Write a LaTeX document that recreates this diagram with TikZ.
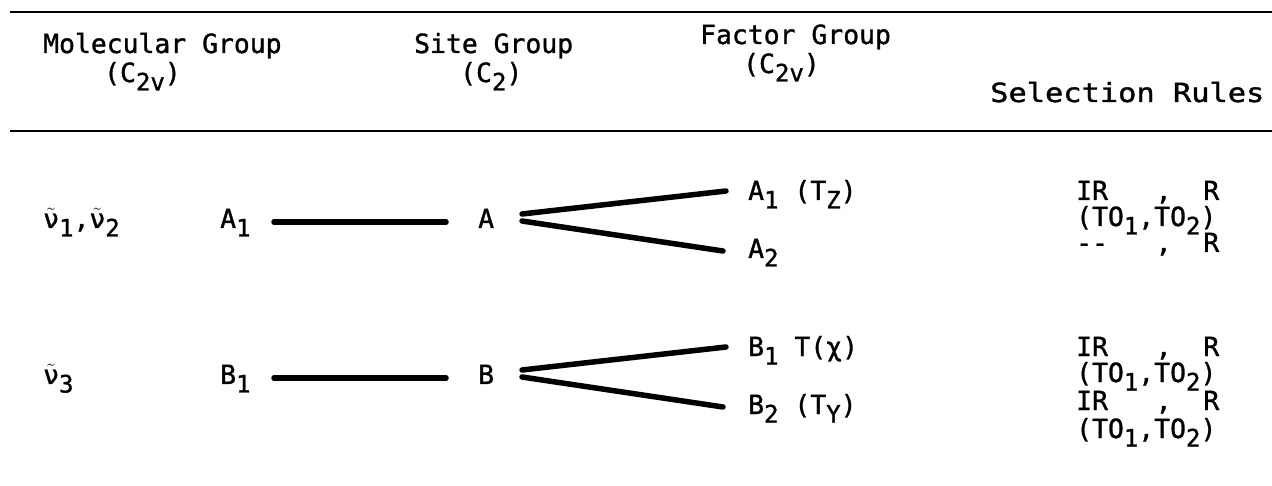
\documentclass[tikz,border=0pt]{standalone}
\usepackage{fontspec}
\newfontfamily\tw[FakeBold=1.2]{DejaVu Sans Mono}
\newcommand\sbs[1]{\raisebox{-8.5pt}{\fontsize{24}{24}\selectfont #1}}
\newcommand\nut{\ensuremath{\tilde{\hbox{ν}}}}
\begin{document}
\begin{tikzpicture}[x=1pt,y=-1pt,
  txt/.style={font=\tw\fontsize{26.4}{20}\selectfont, inner sep=0pt, anchor=base west},
  rule/.style={line width=2.8pt},
  link/.style={line width=5.5pt, line cap=round}]
\useasboundingbox (0,0) rectangle (1272,486);
% rules
\coordinate (r1l) at (10,12); \coordinate (r1r) at (1272,12);
\coordinate (r2l) at (10,131); \coordinate (r2r) at (1272,131);
\draw[rule] (r1l) -- (r1r);
\draw[rule] (r2l) -- (r2r);
% headers
\node[txt] (h1) at (43,53) {Molecular Group};
\node[txt] (h1b) at (104,82) {(C\sbs{2v})};
\node[txt] (h2) at (414,53) {Site Group};
\node[txt] (h2b) at (460,82) {(C\sbs{2})};
\node[txt] (h3) at (700,44) {Factor Group};
\node[txt] (h3b) at (743,73) {(C\sbs{2v})};
\node[txt] (h4) at (990,102) {\scalebox{1.15}[1]{Selection Rules}};
% row 1  (line y = 222)
\node[txt] (v12) at (43,228) {\nut\sbs{1},\nut\sbs{2}};
\node[txt] (a1m) at (220,228) {A\sbs{1}};
\node[txt] (as) at (478,228) {A};
\node[txt] (a1f) at (748,200) {A\sbs{1} (T\sbs{Z})};
\node[txt] (a2f) at (748,258) {A\sbs{2}};
\coordinate (a1e) at (274,222); \coordinate (ase) at (446,222);
\draw[link] (a1e) -- (ase);
\coordinate (f1a) at (522,214); \coordinate (f1b) at (522,221);
\coordinate (f1u) at (726,191); \coordinate (f1d) at (723,251);
\draw[link] (f1a) -- (f1u);
\draw[link] (f1b) -- (f1d);
\node[txt] (s11) at (1076,200) {IR~~~,~~R};
\node[txt] (s12) at (1076,226) {(TO\sbs{1},TO\sbs{2})};
\node[txt] (s13) at (1076,252) {-{}-~~~,~~R};
% row 2  (line y = 378)
\node[txt] (v3) at (43,384) {\nut\sbs{3}};
\node[txt] (b1m) at (220,384) {B\sbs{1}};
\node[txt] (bs) at (478,384) {B};
\node[txt] (b1f) at (748,356) {B\sbs{1} T(χ)};
\node[txt] (b2f) at (748,414) {B\sbs{2} (T\sbs{Y})};
\coordinate (b1e) at (274,378); \coordinate (bse) at (446,378);
\draw[link] (b1e) -- (bse);
\coordinate (g1a) at (522,370); \coordinate (g1b) at (522,377);
\coordinate (g1u) at (726,347); \coordinate (g1d) at (723,407);
\draw[link] (g1a) -- (g1u);
\draw[link] (g1b) -- (g1d);
\node[txt] (s21) at (1076,356) {IR~~~,~~R};
\node[txt] (s22) at (1076,382) {(TO\sbs{1},TO\sbs{2})};
\node[txt] (s23) at (1076,410) {IR~~~,~~R};
\node[txt] (s24) at (1076,438) {(TO\sbs{1},TO\sbs{2})};
\end{tikzpicture}
\end{document}
